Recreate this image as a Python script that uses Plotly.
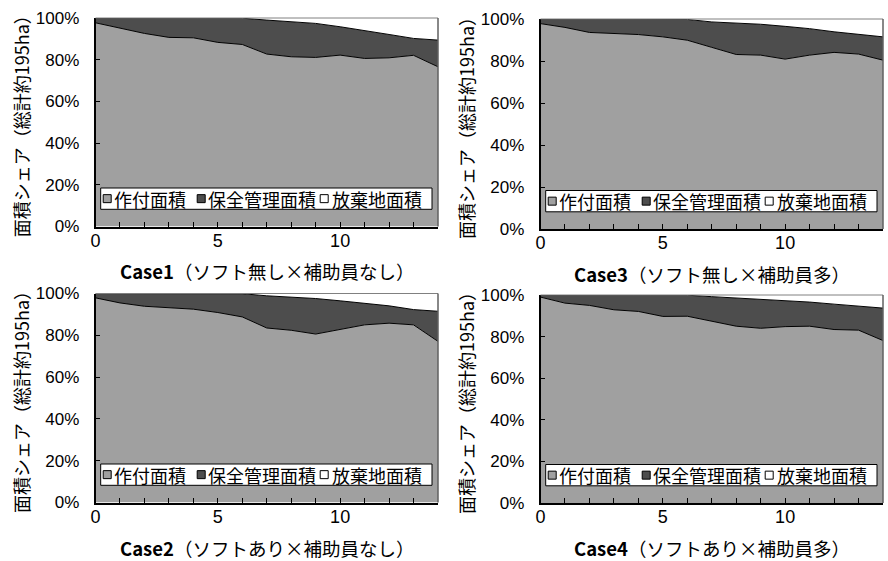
import plotly.graph_objects as go

# ---------------- data ----------------
years = list(range(15))

case_titles = ["Case1", "Case2", "Case3", "Case4"]
case_subtitles = ["（ソフト無し×補助員なし）", "（ソフトあり×補助員なし）",
                  "（ソフト無し×補助員多）", "（ソフトあり×補助員多）"]
series_names = ["作付面積", "保全管理面積", "放棄地面積"]
y_title = "面積シェア（総計約195ha）"

crop_c1 = [97.7, 95.2, 92.6, 90.7, 90.5, 88.3, 87.3, 82.7, 81.4, 81.1, 82.2, 80.6, 80.9, 82.1, 76.6]
cons_c1 = [2.3, 4.8, 7.4, 9.3, 9.5, 11.7, 12.6, 16.3, 16.8, 16.3, 13.6, 13.2, 11.2, 8.1, 12.8]
aban_c1 = [0, 0, 0, 0, 0, 0, 0.1, 1.0, 1.8, 2.6, 4.2, 6.2, 7.9, 9.8, 10.6]

crop_c2 = [97.9, 95.5, 93.9, 93.1, 92.5, 90.9, 88.8, 83.5, 82.4, 80.6, 82.9, 85.0, 85.8, 85.0, 77.1]
cons_c2 = [2.1, 4.5, 6.1, 6.9, 7.5, 9.1, 11.1, 15.4, 15.9, 17.0, 13.6, 10.2, 8.3, 7.3, 14.4]
aban_c2 = [0, 0, 0, 0, 0, 0, 0.1, 1.1, 1.7, 2.4, 3.5, 4.8, 5.9, 7.7, 8.5]

crop_c3 = [97.8, 96.0, 93.6, 93.1, 92.6, 91.5, 89.9, 86.5, 83.1, 82.8, 80.9, 82.8, 84.1, 83.3, 80.4]
cons_c3 = [2.2, 4.0, 6.4, 6.9, 7.4, 8.5, 9.9, 12.1, 15.0, 14.7, 15.6, 12.6, 9.8, 9.3, 11.1]
aban_c3 = [0, 0, 0, 0, 0, 0, 0.2, 1.4, 1.9, 2.5, 3.5, 4.6, 6.1, 7.4, 8.5]

crop_c4 = [99.0, 96.1, 95.0, 92.9, 92.1, 89.7, 89.8, 87.3, 85.0, 84.0, 84.8, 85.0, 83.4, 83.1, 78.1]
cons_c4 = [1.0, 3.9, 5.0, 7.1, 7.9, 10.3, 10.1, 11.9, 13.5, 14.1, 12.6, 11.6, 12.2, 11.7, 15.6]
aban_c4 = [0, 0, 0, 0, 0, 0, 0.1, 0.8, 1.5, 1.9, 2.6, 3.4, 4.4, 5.2, 6.3]

y_ticks = [0, 20, 40, 60, 80, 100]
y_ticktext = ["0%", "20%", "40%", "60%", "80%", "100%"]
x_ticks = [0, 5, 10]

# ---------------- styling / layout ----------------
W, H = 888, 561
COLORS = ["#a0a0a0", "#4d4d4d", "#ffffff"]
CJK = "Noto Sans CJK JP"
LAT = "Liberation Sans"

# panel pixel boxes: (left, right, top, bottom)
panels = [
    (95.5, 438.0, 18.0, 226.5),    # Case1
    (95.5, 438.0, 293.5, 502.5),   # Case2
    (540.5, 883.0, 19.0, 229.0),   # Case3
    (540.5, 883.0, 295.0, 503.0),  # Case4
]
data = [
    (crop_c1, cons_c1, aban_c1),
    (crop_c2, cons_c2, aban_c2),
    (crop_c3, cons_c3, aban_c3),
    (crop_c4, cons_c4, aban_c4),
]

def px(x):
    return x / W

def py(y):
    return 1 - y / H

fig = go.Figure()
shapes = []
annotations = []

for i, ((L, R, T, B), series) in enumerate(zip(panels, data)):
    n = i + 1
    xa = "x" if n == 1 else f"x{n}"
    ya = "y" if n == 1 else f"y{n}"
    for k, (name, vals) in enumerate(zip(series_names, series)):
        fig.add_trace(go.Scatter(
            x=years, y=vals, name=name, xaxis=xa, yaxis=ya,
            stackgroup=f"s{n}", mode="lines",
            line=dict(color="black" if k < 2 else "rgba(0,0,0,0)", width=1),
            fillcolor=COLORS[k], showlegend=False,
        ))
    xkey = "xaxis" if n == 1 else f"xaxis{n}"
    ykey = "yaxis" if n == 1 else f"yaxis{n}"
    fig.update_layout(**{
        xkey: dict(domain=[px(L), px(R)], anchor=ya, range=[0, 14],
                   tickmode="array", tickvals=x_ticks, ticks="inside", ticklen=5,
                   tickcolor="black", tickwidth=1,
                   minor=dict(dtick=1, tick0=0, ticks="inside", ticklen=5,
                              tickcolor="black", tickwidth=1),
                   showline=True, linecolor="black", linewidth=1.5,
                   showgrid=False, zeroline=False, automargin=False,
                   tickfont=dict(family=LAT, size=18, color="black"),
                   ticklabelstandoff=-3),
        ykey: dict(domain=[py(B), py(T)], anchor=xa, range=[0, 100],
                   tickmode="array", tickvals=y_ticks, ticktext=y_ticktext,
                   ticks="inside", ticklen=5, tickcolor="black", tickwidth=1,
                   showline=True, linecolor="black", linewidth=1.5,
                   showgrid=False, zeroline=False, automargin=False,
                   tickfont=dict(family=LAT, size=17, color="black"),
                   ticklabelstandoff=11),
    })
    # top and right border of plot area
    shapes.append(dict(type="line", xref="paper", yref="paper",
                       x0=px(L), x1=px(R), y0=py(T), y1=py(T),
                       line=dict(color="#808080", width=1), layer="above"))
    shapes.append(dict(type="line", xref="paper", yref="paper",
                       x0=px(R), x1=px(R), y0=py(T), y1=py(B),
                       line=dict(color="#606060", width=1.5), layer="above"))
    # x title
    annotations.append(dict(
        xref="paper", yref="paper", x=px((L + R) / 2), y=py(B + 45),
        xanchor="center", yanchor="middle", showarrow=False,
        text=(f"<span style='font-family:Liberation Sans Narrow, {CJK}'><b>"
              f"{case_titles[i]}</b></span>{case_subtitles[i]}"),
        font=dict(family=CJK, size=18.5, color="black")))
    # y title
    annotations.append(dict(
        xref="paper", yref="paper", x=px(L - 74.5), y=py((T + B) / 2),
        xanchor="center", yanchor="middle", showarrow=False, textangle=-90,
        text=y_title, font=dict(family=CJK, size=18, color="black")))
    # legend box
    bl, br = L + 5.2, R - 6
    bt, bb = B - 38.5, B - 17.2
    shapes.append(dict(type="rect", xref="paper", yref="paper",
                       x0=px(bl), x1=px(br), y0=py(bb), y1=py(bt),
                       fillcolor="white", line=dict(color="black", width=1),
                       layer="above"))
    cy = (bt + bb) / 2
    sq_off = [2.5, 96.5, 219.5]
    txt_off = [12.5, 106.0, 230.0]
    for k in range(3):
        sx = bl + sq_off[k]
        shapes.append(dict(type="rect", xref="paper", yref="paper",
                           x0=px(sx), x1=px(sx + 8), y0=py(cy + 4), y1=py(cy - 4),
                           fillcolor=COLORS[k], line=dict(color="black", width=1),
                           layer="above"))
        annotations.append(dict(
            xref="paper", yref="paper", x=px(bl + txt_off[k]), y=py(cy),
            xanchor="left", yanchor="middle", showarrow=False,
            text=series_names[k], borderpad=0,
            font=dict(family=CJK, size=18, color="black")))

fig.update_layout(
    width=W, height=H,
    margin=dict(l=0, r=0, t=0, b=0),
    paper_bgcolor="white", plot_bgcolor="white",
    showlegend=False,
    shapes=shapes, annotations=annotations,
    font=dict(family=CJK, color="black"),
)

fig.write_html("out.html", config={"displayModeBar": False},
               post_script="document.body.style.margin='0';")
